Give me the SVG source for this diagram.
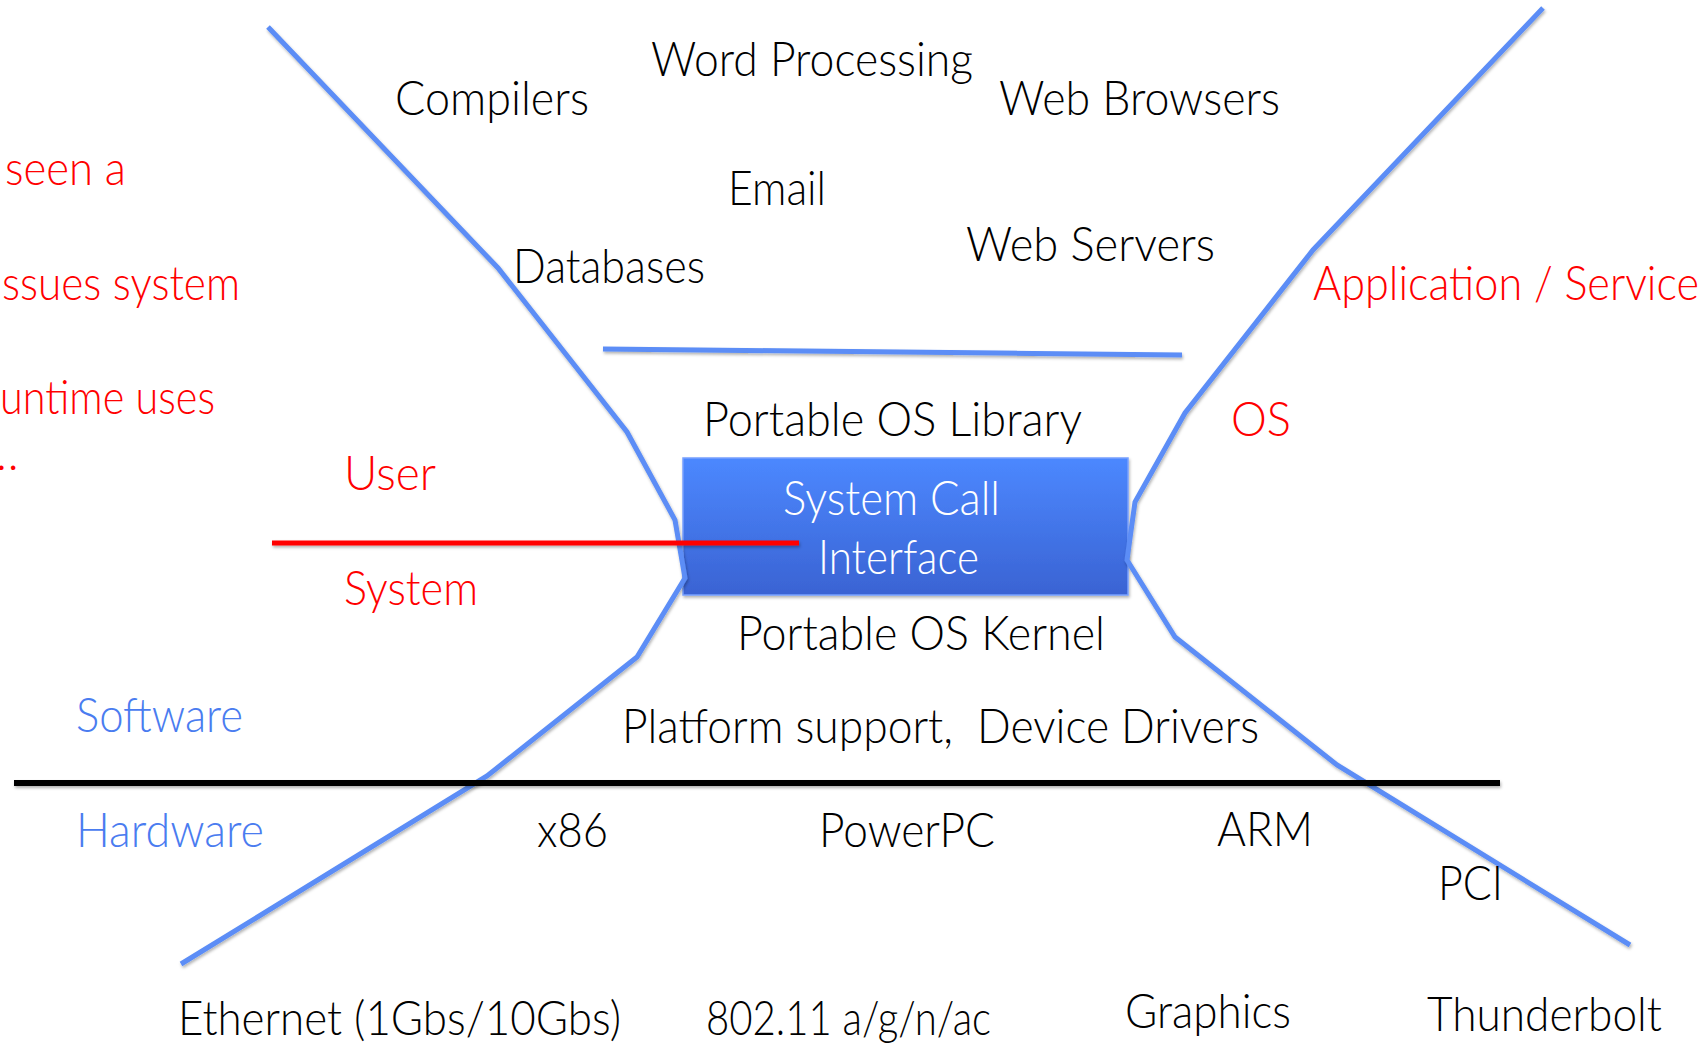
<svg xmlns="http://www.w3.org/2000/svg" width="1708" height="1046" viewBox="0 0 1708 1046">
<defs>
<linearGradient id="boxg" x1="0" y1="0" x2="0" y2="1">
<stop offset="0" stop-color="#4c88ff"/>
<stop offset="1" stop-color="#3a63d3"/>
</linearGradient>
<filter id="sh" filterUnits="userSpaceOnUse" x="0" y="0" width="1708" height="1046">
<feDropShadow dx="1" dy="2" stdDeviation="1.5" flood-color="#000" flood-opacity="0.3"/>
</filter>
<style>
.t{font-family:Lato,"Open Sans","Liberation Sans",sans-serif;font-weight:300;font-size:48px;fill:#000}
.r{fill:#ff0000}
.b{fill:#4a7cf0}
.w{fill:#ffffff}
.bl{fill:none;stroke:#5b8df6;stroke-width:5;stroke-linejoin:miter;filter:url(#sh)}
</style>
</defs>
<rect width="1708" height="1046" fill="#ffffff"/>

<g id="syscall">
<rect x="683" y="458" width="445" height="137" fill="url(#boxg)" stroke="#77a0ff" stroke-width="1.5" filter="url(#sh)"/>
<text class="t w" x="783" y="515" textLength="217" lengthAdjust="spacingAndGlyphs">System Call</text>
<text class="t w" x="818" y="574" textLength="161" lengthAdjust="spacingAndGlyphs">Interface</text>
</g>

<g id="connectors">
<polyline class="bl" points="268,27 498,268 627,432 675,520 685,578 637,657 487,776 181,964"/>
<polyline class="bl" points="1543,8 1313,250 1185,413 1135,502 1127,560 1175,637 1337,765 1630,945"/>
<line class="bl" x1="603" y1="349" x2="1182" y2="355"/>
<line x1="272" y1="543" x2="799" y2="543" stroke="#ff0000" stroke-width="5" filter="url(#sh)"/>
<line x1="14" y1="783" x2="1500" y2="783" stroke="#000" stroke-width="6" filter="url(#sh)"/>
</g>

<g id="compilers"><text class="t" x="395" y="115" textLength="194" lengthAdjust="spacingAndGlyphs">Compilers</text></g>
<g id="word-processing"><text class="t" x="651" y="76" textLength="322" lengthAdjust="spacingAndGlyphs">Word Processing</text></g>
<g id="web-browsers"><text class="t" x="999" y="115" textLength="281" lengthAdjust="spacingAndGlyphs">Web Browsers</text></g>
<g id="email"><text class="t" x="728" y="205" textLength="98" lengthAdjust="spacingAndGlyphs">Email</text></g>
<g id="databases"><text class="t" x="513" y="283" textLength="192" lengthAdjust="spacingAndGlyphs">Databases</text></g>
<g id="web-servers"><text class="t" x="966" y="261" textLength="249" lengthAdjust="spacingAndGlyphs">Web Servers</text></g>
<g id="app-service"><text class="t r" x="1313" y="300" textLength="386" lengthAdjust="spacingAndGlyphs">Application / Service</text></g>
<g id="os"><text class="t r" x="1231" y="436" textLength="60" lengthAdjust="spacingAndGlyphs">OS</text></g>
<g id="os-library"><text class="t" x="703" y="436" textLength="379" lengthAdjust="spacingAndGlyphs">Portable OS Library</text></g>
<g id="user"><text class="t r" x="344" y="490" textLength="92" lengthAdjust="spacingAndGlyphs">User</text></g>
<g id="system"><text class="t r" x="344" y="605" textLength="134" lengthAdjust="spacingAndGlyphs">System</text></g>
<g id="os-kernel"><text class="t" x="737" y="650" textLength="368" lengthAdjust="spacingAndGlyphs">Portable OS Kernel</text></g>
<g id="platform"><text class="t" x="622" y="743" textLength="637" lengthAdjust="spacingAndGlyphs" xml:space="preserve">Platform support,  Device Drivers</text></g>
<g id="software"><text class="t b" x="76" y="732" textLength="167" lengthAdjust="spacingAndGlyphs">Software</text></g>
<g id="hardware"><text class="t b" x="76" y="847" textLength="188" lengthAdjust="spacingAndGlyphs">Hardware</text></g>
<g id="x86"><text class="t" x="537" y="847" textLength="71" lengthAdjust="spacingAndGlyphs">x86</text></g>
<g id="powerpc"><text class="t" x="819" y="847" textLength="176" lengthAdjust="spacingAndGlyphs">PowerPC</text></g>
<g id="arm"><text class="t" x="1217" y="846" textLength="96" lengthAdjust="spacingAndGlyphs">ARM</text></g>
<g id="pci"><text class="t" x="1438" y="900" textLength="65" lengthAdjust="spacingAndGlyphs">PCI</text></g>
<g id="ethernet"><text class="t" x="178" y="1035" textLength="443" lengthAdjust="spacingAndGlyphs">Ethernet (1Gbs/10Gbs)</text></g>
<g id="wifi"><text class="t" x="706" y="1035" textLength="285" lengthAdjust="spacingAndGlyphs">802.11 a/g/n/ac</text></g>
<g id="graphics"><text class="t" x="1125" y="1028" textLength="166" lengthAdjust="spacingAndGlyphs">Graphics</text></g>
<g id="thunderbolt"><text class="t" x="1427" y="1031" textLength="235" lengthAdjust="spacingAndGlyphs">Thunderbolt</text></g>

<g id="side-notes">
<text class="t r" x="5" y="185" textLength="121" lengthAdjust="spacingAndGlyphs">seen a</text>
<text class="t r" x="2" y="300" textLength="238" lengthAdjust="spacingAndGlyphs">ssues system</text>
<text class="t r" x="0" y="414" textLength="215" lengthAdjust="spacingAndGlyphs">untime uses</text>
<text class="t r" x="-16" y="470">…</text>
</g>
</svg>
